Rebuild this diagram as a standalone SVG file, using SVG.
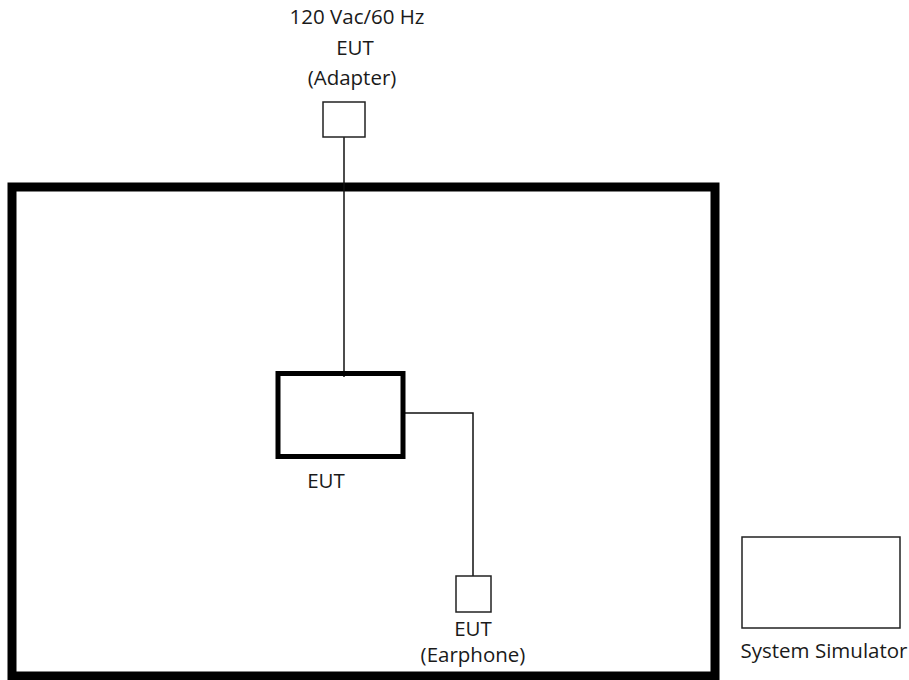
<svg xmlns="http://www.w3.org/2000/svg" width="909" height="680" viewBox="0 0 909 680">
<style>
text{font-family:"Open Sans","Noto Sans","DejaVu Sans",sans-serif;font-size:20.5px;fill:#1a1a1a;text-anchor:middle}
.thin{fill:#fff;stroke:#222;stroke-width:1.5}
.wire{fill:none;stroke:#111;stroke-width:1.5}
</style>
<rect width="909" height="680" fill="#fff"/>
<g id="chamber"><rect x="12" y="187" width="703" height="489" fill="none" stroke="#000" stroke-width="9"/></g>
<g id="connectors">
<line class="wire" x1="344" y1="137" x2="344" y2="377"/>
<polyline class="wire" points="403,413 473,413 473,576"/>
</g>
<g id="adapter">
<text x="357" y="24">120 Vac/60 Hz</text>
<text x="355" y="55">EUT</text>
<text x="352" y="85">(Adapter)</text>
<rect class="thin" x="323" y="102" width="42" height="35"/>
</g>
<g id="eut">
<rect x="278" y="373.5" width="125" height="83" fill="none" stroke="#000" stroke-width="5"/>
<text x="326" y="488">EUT</text>
</g>
<g id="earphone">
<rect class="thin" x="456" y="576" width="35" height="36"/>
<text x="473" y="636">EUT</text>
<text x="473" y="662">(Earphone)</text>
</g>
<g id="simulator">
<rect class="thin" x="742" y="537" width="158" height="91"/>
<text x="824" y="658">System Simulator</text>
</g>
</svg>
